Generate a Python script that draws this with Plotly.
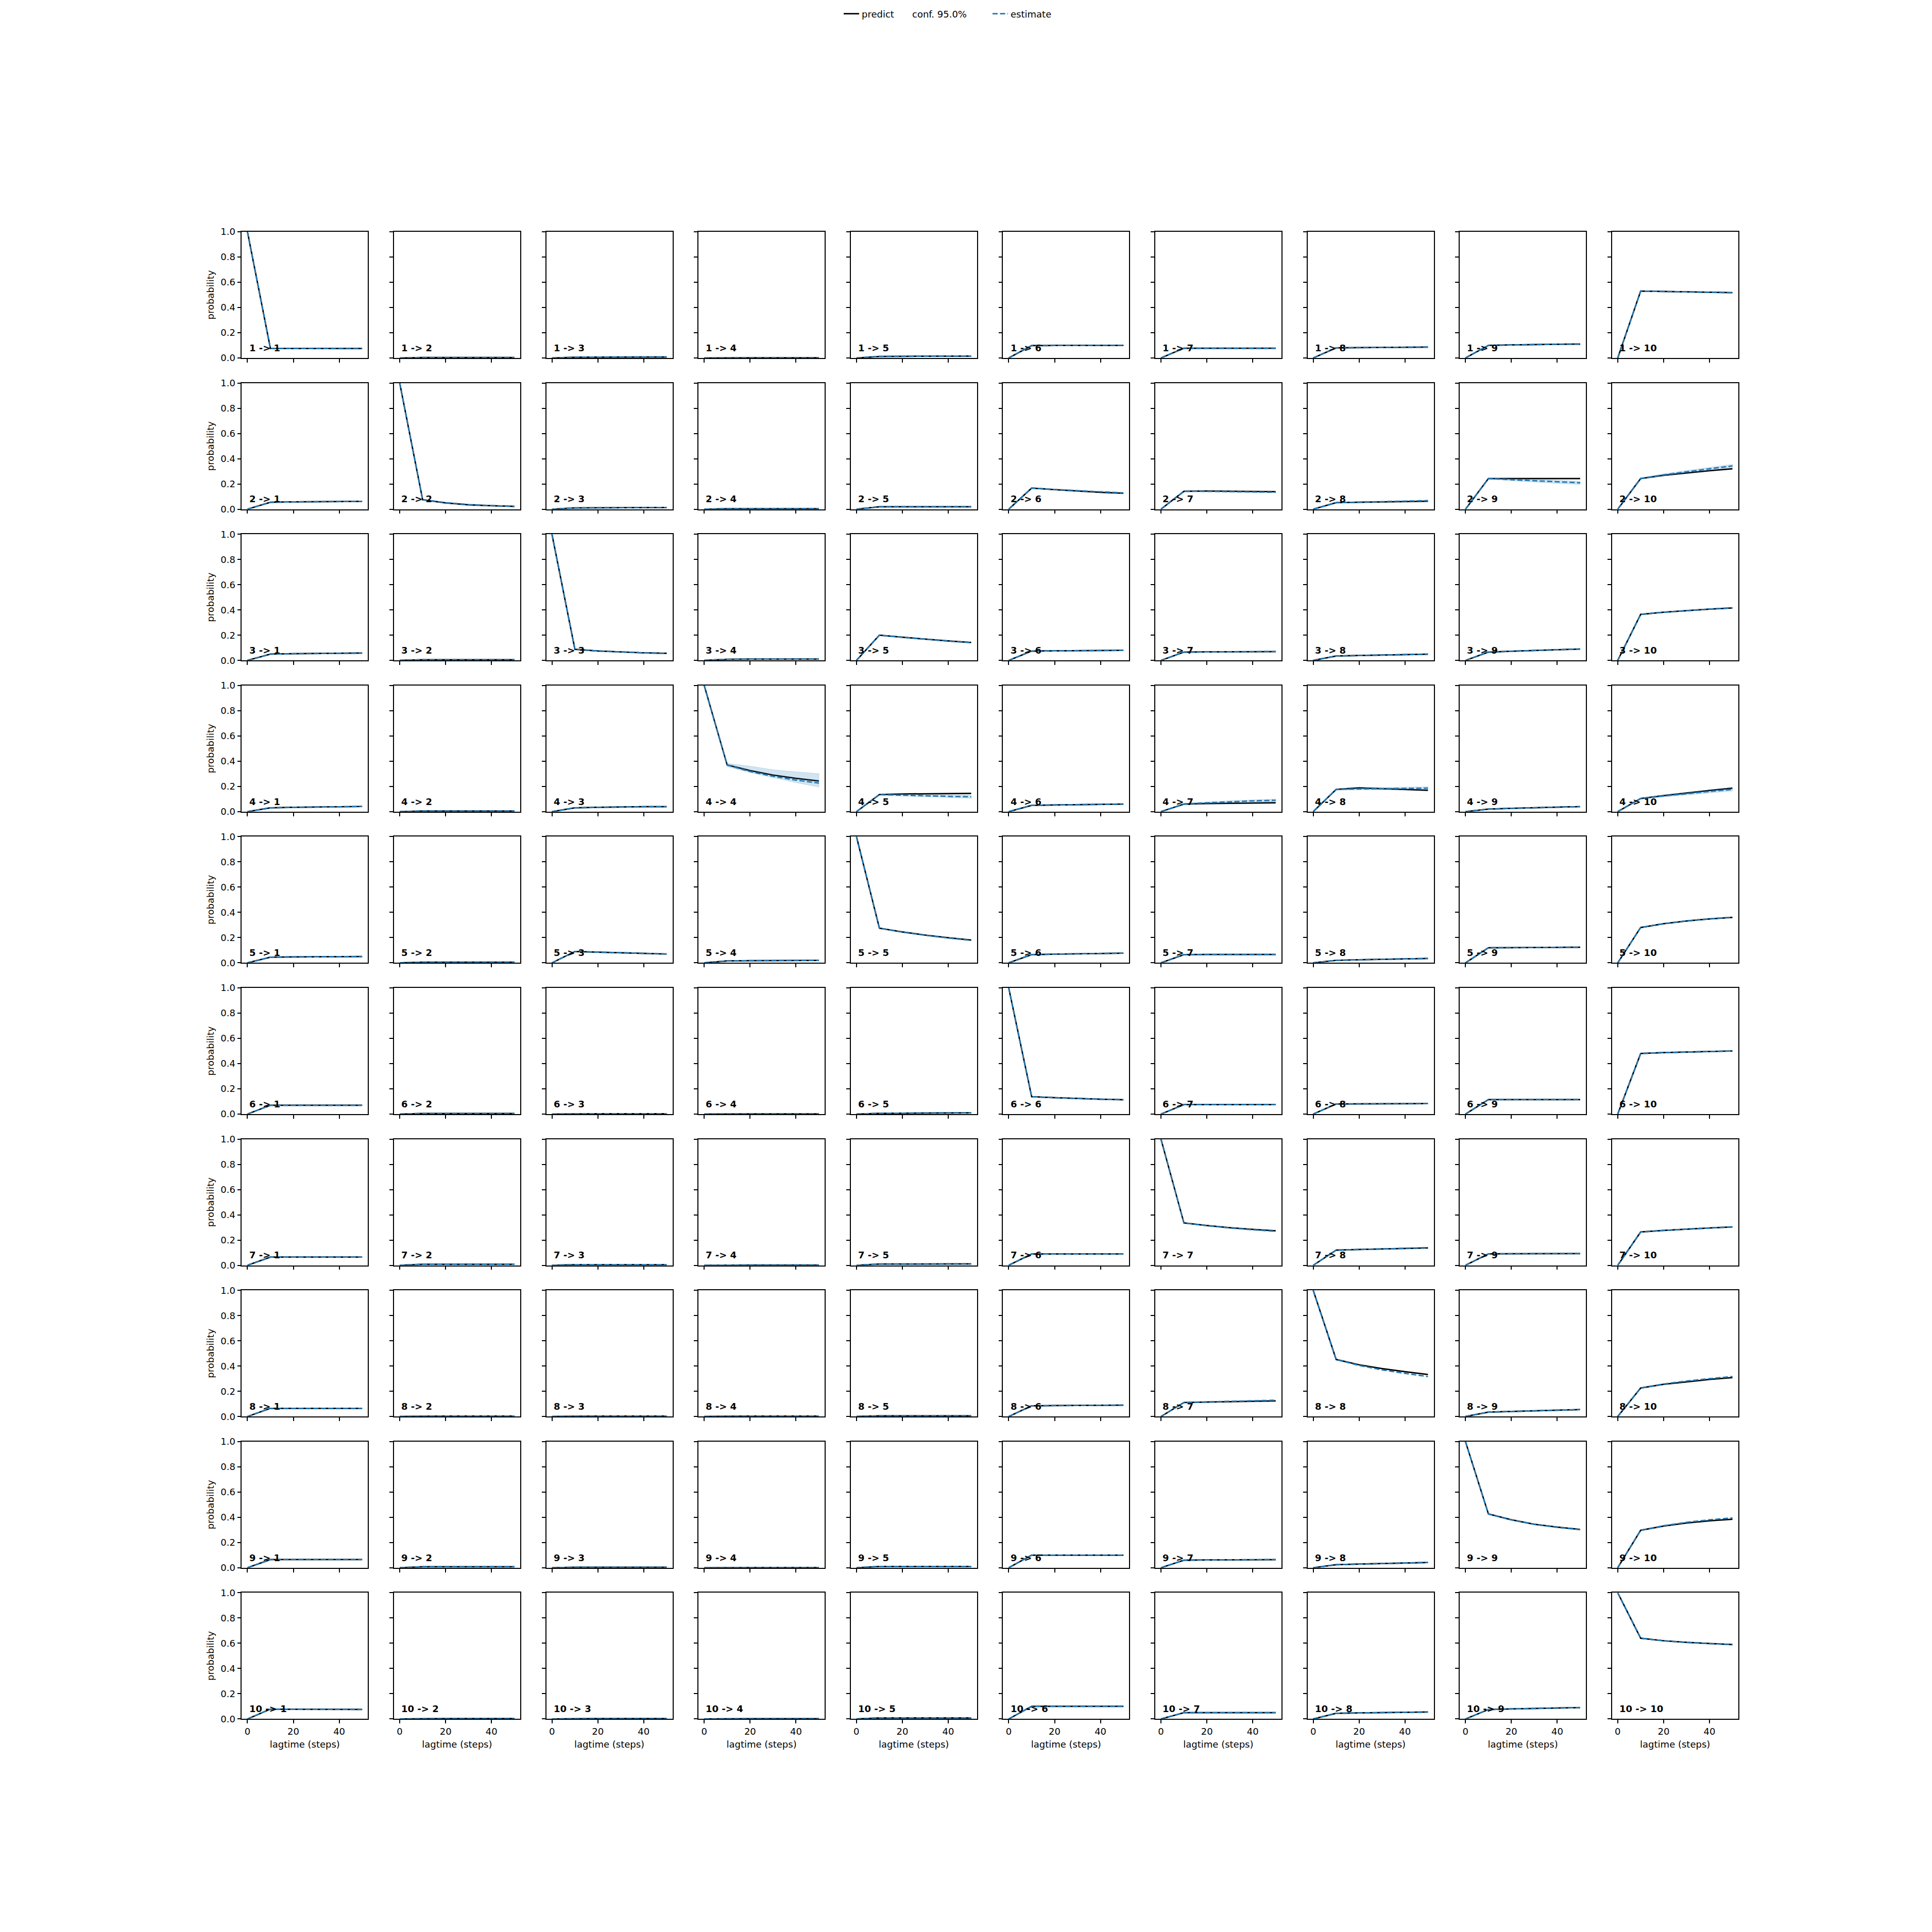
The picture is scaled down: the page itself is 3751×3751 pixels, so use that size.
import plotly.graph_objects as go

# ---------------- data ----------------
LAGTIMES = [0, 10, 20, 30, 40, 50]
STATES = [1, 2, 3, 4, 5, 6, 7, 8, 9, 10]
Y_TICKS = [0.0, 0.2, 0.4, 0.6, 0.8, 1.0]
X_TICKS = [0, 20, 40]

# predictions: PRED_i[j] = P(i -> j+1) at each lagtime
PRED_1 = [
    [1, 0.076, 0.075, 0.075, 0.075, 0.075],
    [0, 0.004, 0.004, 0.004, 0.004, 0.004],
    [0, 0.006, 0.007, 0.007, 0.007, 0.008],
    [0, 0.002, 0.002, 0.002, 0.002, 0.002],
    [0, 0.012, 0.013, 0.014, 0.014, 0.015],
    [0, 0.098, 0.099, 0.100, 0.100, 0.100],
    [0, 0.077, 0.077, 0.077, 0.077, 0.077],
    [0, 0.080, 0.082, 0.084, 0.085, 0.086],
    [0, 0.100, 0.104, 0.107, 0.109, 0.110],
    [0, 0.530, 0.527, 0.524, 0.521, 0.518],
]
PRED_2 = [
    [0, 0.055, 0.058, 0.060, 0.061, 0.062],
    [1, 0.075, 0.050, 0.035, 0.027, 0.022],
    [0, 0.010, 0.011, 0.012, 0.012, 0.013],
    [0, 0.004, 0.004, 0.004, 0.004, 0.004],
    [0, 0.019, 0.019, 0.019, 0.019, 0.019],
    [0, 0.167, 0.155, 0.144, 0.134, 0.126],
    [0, 0.142, 0.144, 0.143, 0.141, 0.139],
    [0, 0.052, 0.055, 0.058, 0.061, 0.063],
    [0, 0.243, 0.243, 0.243, 0.243, 0.243],
    [0, 0.243, 0.268, 0.288, 0.305, 0.320],
]
PRED_3 = [
    [0, 0.050, 0.053, 0.055, 0.057, 0.058],
    [0, 0.005, 0.005, 0.005, 0.005, 0.005],
    [1, 0.088, 0.075, 0.066, 0.060, 0.056],
    [0, 0.009, 0.010, 0.010, 0.011, 0.011],
    [0, 0.200, 0.184, 0.168, 0.154, 0.142],
    [0, 0.074, 0.076, 0.078, 0.079, 0.080],
    [0, 0.066, 0.068, 0.069, 0.070, 0.070],
    [0, 0.035, 0.039, 0.043, 0.046, 0.049],
    [0, 0.066, 0.073, 0.079, 0.085, 0.090],
    [0, 0.365, 0.382, 0.395, 0.406, 0.416],
]
PRED_4 = [
    [0, 0.030, 0.034, 0.037, 0.039, 0.041],
    [0, 0.005, 0.005, 0.005, 0.005, 0.005],
    [0, 0.030, 0.034, 0.037, 0.039, 0.040],
    [1, 0.370, 0.325, 0.290, 0.264, 0.243],
    [0, 0.135, 0.140, 0.142, 0.144, 0.145],
    [0, 0.050, 0.053, 0.056, 0.058, 0.060],
    [0, 0.060, 0.064, 0.066, 0.068, 0.070],
    [0, 0.176, 0.188, 0.181, 0.174, 0.169],
    [0, 0.020, 0.026, 0.031, 0.035, 0.040],
    [0, 0.104, 0.127, 0.148, 0.168, 0.186],
]
PRED_5 = [
    [0, 0.045, 0.047, 0.049, 0.050, 0.050],
    [0, 0.005, 0.005, 0.005, 0.005, 0.005],
    [0, 0.090, 0.085, 0.080, 0.075, 0.070],
    [0, 0.015, 0.017, 0.018, 0.019, 0.020],
    [1, 0.275, 0.245, 0.220, 0.199, 0.181],
    [0, 0.065, 0.069, 0.072, 0.075, 0.077],
    [0, 0.065, 0.066, 0.066, 0.066, 0.066],
    [0, 0.020, 0.025, 0.029, 0.032, 0.035],
    [0, 0.120, 0.121, 0.122, 0.123, 0.124],
    [0, 0.280, 0.310, 0.332, 0.348, 0.360],
]
PRED_6 = [
    [0, 0.070, 0.070, 0.070, 0.070, 0.070],
    [0, 0.005, 0.005, 0.005, 0.005, 0.005],
    [0, 0.003, 0.003, 0.003, 0.003, 0.003],
    [0, 0.002, 0.002, 0.002, 0.002, 0.002],
    [0, 0.006, 0.007, 0.008, 0.009, 0.010],
    [1, 0.138, 0.130, 0.123, 0.118, 0.114],
    [0, 0.075, 0.075, 0.075, 0.075, 0.075],
    [0, 0.080, 0.081, 0.082, 0.082, 0.083],
    [0, 0.115, 0.115, 0.115, 0.115, 0.115],
    [0, 0.480, 0.487, 0.492, 0.496, 0.500],
]
PRED_7 = [
    [0, 0.065, 0.065, 0.065, 0.065, 0.065],
    [0, 0.008, 0.008, 0.008, 0.008, 0.008],
    [0, 0.005, 0.005, 0.005, 0.005, 0.005],
    [0, 0.002, 0.002, 0.002, 0.002, 0.002],
    [0, 0.010, 0.010, 0.011, 0.011, 0.011],
    [0, 0.090, 0.090, 0.090, 0.090, 0.090],
    [1, 0.336, 0.315, 0.298, 0.285, 0.273],
    [0, 0.120, 0.125, 0.130, 0.134, 0.138],
    [0, 0.091, 0.092, 0.092, 0.093, 0.093],
    [0, 0.264, 0.276, 0.287, 0.296, 0.304],
]
PRED_8 = [
    [0, 0.065, 0.065, 0.065, 0.065, 0.065],
    [0, 0.003, 0.003, 0.003, 0.003, 0.003],
    [0, 0.003, 0.003, 0.003, 0.003, 0.003],
    [0, 0.003, 0.003, 0.003, 0.003, 0.003],
    [0, 0.005, 0.005, 0.005, 0.005, 0.005],
    [0, 0.085, 0.087, 0.088, 0.089, 0.090],
    [0, 0.111, 0.115, 0.119, 0.122, 0.124],
    [1, 0.452, 0.410, 0.380, 0.355, 0.333],
    [0, 0.035, 0.040, 0.045, 0.050, 0.055],
    [0, 0.226, 0.255, 0.276, 0.294, 0.308],
]
PRED_9 = [
    [0, 0.065, 0.065, 0.065, 0.065, 0.065],
    [0, 0.008, 0.008, 0.008, 0.008, 0.008],
    [0, 0.004, 0.004, 0.004, 0.004, 0.004],
    [0, 0.002, 0.002, 0.002, 0.002, 0.002],
    [0, 0.010, 0.010, 0.010, 0.010, 0.010],
    [0, 0.100, 0.100, 0.100, 0.100, 0.100],
    [0, 0.060, 0.062, 0.063, 0.064, 0.064],
    [0, 0.024, 0.029, 0.034, 0.038, 0.042],
    [1, 0.426, 0.380, 0.345, 0.322, 0.304],
    [0, 0.297, 0.330, 0.355, 0.372, 0.384],
]
PRED_10 = [
    [0, 0.078, 0.077, 0.077, 0.076, 0.076],
    [0, 0.003, 0.003, 0.003, 0.003, 0.003],
    [0, 0.003, 0.003, 0.003, 0.003, 0.003],
    [0, 0.002, 0.002, 0.002, 0.002, 0.002],
    [0, 0.008, 0.008, 0.008, 0.008, 0.008],
    [0, 0.100, 0.100, 0.100, 0.100, 0.100],
    [0, 0.050, 0.050, 0.050, 0.050, 0.050],
    [0, 0.045, 0.048, 0.051, 0.053, 0.055],
    [0, 0.075, 0.080, 0.084, 0.087, 0.090],
    [1, 0.640, 0.620, 0.607, 0.598, 0.590],
]

# estimates: EST_i[j] = estimated P(i -> j+1) at each lagtime
EST_1 = [
    [1, 0.076, 0.075, 0.075, 0.074, 0.074],
    [0, 0.004, 0.004, 0.004, 0.004, 0.004],
    [0, 0.006, 0.007, 0.007, 0.008, 0.008],
    [0, 0.002, 0.002, 0.002, 0.002, 0.002],
    [0, 0.012, 0.013, 0.014, 0.015, 0.015],
    [0, 0.098, 0.099, 0.100, 0.101, 0.101],
    [0, 0.077, 0.077, 0.077, 0.077, 0.077],
    [0, 0.080, 0.082, 0.084, 0.085, 0.086],
    [0, 0.100, 0.104, 0.106, 0.109, 0.111],
    [0, 0.530, 0.527, 0.523, 0.520, 0.517],
]
EST_2 = [
    [0, 0.055, 0.058, 0.060, 0.061, 0.062],
    [1, 0.075, 0.052, 0.037, 0.028, 0.022],
    [0, 0.010, 0.011, 0.012, 0.012, 0.013],
    [0, 0.004, 0.004, 0.004, 0.004, 0.004],
    [0, 0.019, 0.019, 0.019, 0.019, 0.019],
    [0, 0.167, 0.156, 0.146, 0.137, 0.129],
    [0, 0.142, 0.141, 0.139, 0.136, 0.134],
    [0, 0.052, 0.056, 0.060, 0.064, 0.068],
    [0, 0.243, 0.234, 0.225, 0.217, 0.209],
    [0, 0.243, 0.272, 0.297, 0.320, 0.343],
]
EST_3 = [
    [0, 0.050, 0.053, 0.055, 0.057, 0.058],
    [0, 0.005, 0.005, 0.005, 0.005, 0.005],
    [1, 0.088, 0.075, 0.066, 0.060, 0.055],
    [0, 0.009, 0.010, 0.010, 0.011, 0.011],
    [0, 0.200, 0.183, 0.167, 0.153, 0.141],
    [0, 0.074, 0.076, 0.078, 0.079, 0.080],
    [0, 0.066, 0.068, 0.069, 0.070, 0.071],
    [0, 0.035, 0.039, 0.043, 0.046, 0.050],
    [0, 0.066, 0.073, 0.079, 0.085, 0.091],
    [0, 0.365, 0.382, 0.396, 0.407, 0.417],
]
EST_4 = [
    [0, 0.030, 0.034, 0.037, 0.039, 0.041],
    [0, 0.005, 0.005, 0.005, 0.005, 0.005],
    [0, 0.030, 0.034, 0.037, 0.039, 0.040],
    [1, 0.370, 0.318, 0.280, 0.250, 0.226],
    [0, 0.135, 0.130, 0.126, 0.121, 0.117],
    [0, 0.050, 0.053, 0.056, 0.058, 0.060],
    [0, 0.060, 0.070, 0.078, 0.085, 0.090],
    [0, 0.176, 0.180, 0.182, 0.184, 0.186],
    [0, 0.020, 0.026, 0.031, 0.035, 0.040],
    [0, 0.104, 0.124, 0.143, 0.160, 0.176],
]
EST_5 = [
    [0, 0.045, 0.047, 0.049, 0.050, 0.050],
    [0, 0.005, 0.005, 0.005, 0.005, 0.005],
    [0, 0.090, 0.085, 0.080, 0.075, 0.070],
    [0, 0.015, 0.017, 0.018, 0.019, 0.020],
    [1, 0.275, 0.244, 0.218, 0.197, 0.178],
    [0, 0.065, 0.069, 0.072, 0.075, 0.077],
    [0, 0.065, 0.066, 0.066, 0.066, 0.066],
    [0, 0.020, 0.025, 0.029, 0.032, 0.035],
    [0, 0.120, 0.121, 0.122, 0.123, 0.124],
    [0, 0.280, 0.310, 0.333, 0.349, 0.362],
]
EST_6 = [
    [0, 0.070, 0.070, 0.070, 0.070, 0.070],
    [0, 0.005, 0.005, 0.005, 0.005, 0.005],
    [0, 0.003, 0.003, 0.003, 0.003, 0.003],
    [0, 0.002, 0.002, 0.002, 0.002, 0.002],
    [0, 0.006, 0.007, 0.008, 0.009, 0.010],
    [1, 0.138, 0.130, 0.123, 0.118, 0.114],
    [0, 0.075, 0.075, 0.075, 0.075, 0.075],
    [0, 0.080, 0.081, 0.082, 0.082, 0.083],
    [0, 0.115, 0.115, 0.115, 0.115, 0.115],
    [0, 0.480, 0.487, 0.492, 0.496, 0.500],
]
EST_7 = [
    [0, 0.065, 0.065, 0.065, 0.065, 0.065],
    [0, 0.008, 0.008, 0.008, 0.008, 0.008],
    [0, 0.005, 0.005, 0.005, 0.005, 0.005],
    [0, 0.002, 0.002, 0.002, 0.002, 0.002],
    [0, 0.010, 0.010, 0.011, 0.011, 0.011],
    [0, 0.090, 0.090, 0.090, 0.090, 0.090],
    [1, 0.336, 0.314, 0.296, 0.282, 0.269],
    [0, 0.120, 0.125, 0.130, 0.135, 0.140],
    [0, 0.091, 0.092, 0.092, 0.093, 0.093],
    [0, 0.264, 0.276, 0.287, 0.296, 0.305],
]
EST_8 = [
    [0, 0.065, 0.065, 0.065, 0.065, 0.065],
    [0, 0.003, 0.003, 0.003, 0.003, 0.003],
    [0, 0.003, 0.003, 0.003, 0.003, 0.003],
    [0, 0.003, 0.003, 0.003, 0.003, 0.003],
    [0, 0.005, 0.005, 0.005, 0.005, 0.005],
    [0, 0.085, 0.087, 0.088, 0.089, 0.090],
    [0, 0.111, 0.116, 0.121, 0.125, 0.129],
    [1, 0.452, 0.405, 0.370, 0.342, 0.317],
    [0, 0.035, 0.040, 0.045, 0.050, 0.055],
    [0, 0.226, 0.258, 0.281, 0.300, 0.317],
]
EST_9 = [
    [0, 0.065, 0.065, 0.065, 0.065, 0.065],
    [0, 0.008, 0.008, 0.008, 0.008, 0.008],
    [0, 0.004, 0.004, 0.004, 0.004, 0.004],
    [0, 0.002, 0.002, 0.002, 0.002, 0.002],
    [0, 0.010, 0.010, 0.010, 0.010, 0.010],
    [0, 0.100, 0.100, 0.100, 0.100, 0.100],
    [0, 0.060, 0.062, 0.063, 0.064, 0.065],
    [0, 0.024, 0.029, 0.034, 0.038, 0.042],
    [1, 0.426, 0.379, 0.344, 0.320, 0.302],
    [0, 0.297, 0.333, 0.360, 0.380, 0.395],
]
EST_10 = [
    [0, 0.078, 0.077, 0.077, 0.076, 0.076],
    [0, 0.003, 0.003, 0.003, 0.003, 0.003],
    [0, 0.003, 0.003, 0.003, 0.003, 0.003],
    [0, 0.002, 0.002, 0.002, 0.002, 0.002],
    [0, 0.008, 0.008, 0.008, 0.008, 0.008],
    [0, 0.100, 0.100, 0.100, 0.100, 0.100],
    [0, 0.050, 0.050, 0.050, 0.050, 0.050],
    [0, 0.045, 0.048, 0.051, 0.053, 0.055],
    [0, 0.075, 0.080, 0.084, 0.087, 0.091],
    [1, 0.640, 0.619, 0.606, 0.597, 0.589],
]

# 95% confidence bands (only where visibly wider than the lines)
BAND_4_4_LO = [1, 0.356, 0.310, 0.270, 0.230, 0.195]
BAND_4_4_HI = [1, 0.383, 0.360, 0.332, 0.315, 0.301]
BAND_4_5_LO = [0, 0.130, 0.124, 0.118, 0.112, 0.106]
BAND_4_5_HI = [0, 0.140, 0.136, 0.134, 0.132, 0.131]
BAND_4_7_LO = [0, 0.055, 0.062, 0.068, 0.074, 0.078]
BAND_4_7_HI = [0, 0.065, 0.076, 0.086, 0.094, 0.100]
BAND_4_8_LO = [0, 0.170, 0.172, 0.173, 0.174, 0.175]
BAND_4_8_HI = [0, 0.182, 0.188, 0.192, 0.195, 0.197]
BAND_4_10_LO = [0, 0.100, 0.117, 0.133, 0.148, 0.163]
BAND_4_10_HI = [0, 0.108, 0.131, 0.153, 0.172, 0.190]
BAND_2_9_LO = [0, 0.238, 0.226, 0.214, 0.204, 0.196]
BAND_2_9_HI = [0, 0.248, 0.242, 0.236, 0.230, 0.222]
BAND_2_10_LO = [0, 0.238, 0.264, 0.287, 0.308, 0.330]
BAND_2_10_HI = [0, 0.248, 0.280, 0.307, 0.332, 0.356]

PRED = [PRED_1, PRED_2, PRED_3, PRED_4, PRED_5, PRED_6, PRED_7, PRED_8, PRED_9, PRED_10]
EST = [EST_1, EST_2, EST_3, EST_4, EST_5, EST_6, EST_7, EST_8, EST_9, EST_10]
BANDS = {
    (4, 4): (BAND_4_4_LO, BAND_4_4_HI),
    (4, 5): (BAND_4_5_LO, BAND_4_5_HI),
    (4, 7): (BAND_4_7_LO, BAND_4_7_HI),
    (4, 8): (BAND_4_8_LO, BAND_4_8_HI),
    (4, 10): (BAND_4_10_LO, BAND_4_10_HI),
    (2, 9): (BAND_2_9_LO, BAND_2_9_HI),
    (2, 10): (BAND_2_10_LO, BAND_2_10_HI),
}

# ---------------- layout ----------------
W = H = 3751
OFF = 8  # default page body margin shifts the plot by this many px
FONT = "DejaVu Sans"
FS = 18
C0 = "#1f77b4"
AX_LEFT, AX_TOP = 469.3 - OFF, 450.0 - OFF
COL_PITCH, ROW_PITCH = 295.6, 293.6
AX_SIZE = 245.0

fig = go.Figure()
layout = dict(
    width=W, height=H,
    margin=dict(l=0, r=0, t=0, b=0),
    paper_bgcolor="white", plot_bgcolor="white",
    font=dict(family=FONT, size=FS, color="black"),
    annotations=[],
)

n_states = len(STATES)
for i in range(n_states):
    for j in range(n_states):
        n = i * n_states + j + 1
        xa = "x" if n == 1 else f"x{n}"
        ya = "y" if n == 1 else f"y{n}"
        first = (n == 1)

        fig.add_trace(go.Scatter(
            x=LAGTIMES, y=PRED[i][j], mode="lines",
            line=dict(color="black", width=2.75),
            xaxis=xa, yaxis=ya, name="predict", legend="legend",
            showlegend=first, hoverinfo="skip"))

        key = (STATES[i], STATES[j])
        if key in BANDS:
            lo, hi = BANDS[key]
            fig.add_trace(go.Scatter(
                x=LAGTIMES + LAGTIMES[::-1], y=lo + hi[::-1],
                mode="lines", fill="toself",
                fillcolor="rgba(31,119,180,0.2)",
                line=dict(color="rgba(31,119,180,0.2)", width=1),
                xaxis=xa, yaxis=ya, showlegend=False, hoverinfo="skip"))

        fig.add_trace(go.Scatter(
            x=LAGTIMES, y=EST[i][j], mode="lines",
            line=dict(color=C0, width=2.75, dash="10px,4.5px"),
            xaxis=xa, yaxis=ya, name="estimate", legend="legend3",
            showlegend=first, hoverinfo="skip"))

        left = AX_LEFT + COL_PITCH * j
        top = AX_TOP + ROW_PITCH * i
        xdom = [left / W, (left + AX_SIZE) / W]
        ydom = [1 - (top + AX_SIZE) / H, 1 - top / H]

        axis_common = dict(
            showline=True, linecolor="black", linewidth=1.6, mirror=True,
            ticks="outside", ticklen=7, tickwidth=1.5, tickcolor="black",
            showgrid=False, zeroline=False, automargin=False,
            tickfont=dict(family=FONT, size=FS, color="black"),
        )
        xkey = "xaxis" if n == 1 else f"xaxis{n}"
        ykey = "yaxis" if n == 1 else f"yaxis{n}"
        xaxis = dict(axis_common, domain=xdom, anchor=ya, range=[-2.5, 52.5],
                     tickmode="array", tickvals=X_TICKS,
                     showticklabels=(i == n_states - 1))
        if i == n_states - 1:
            xaxis["title"] = dict(text="lagtime (steps)", standoff=10,
                                  font=dict(family=FONT, size=FS, color="black"))
        yaxis = dict(axis_common, domain=ydom, anchor=xa, range=[0, 1],
                     tickmode="array", tickvals=Y_TICKS, tickformat=".1f",
                     showticklabels=(j == 0))
        if j == 0:
            yaxis["title"] = dict(text="probability", standoff=8,
                                  font=dict(family=FONT, size=FS, color="black"))
        layout[xkey] = xaxis
        layout[ykey] = yaxis

        layout["annotations"].append(dict(
            text=f"{STATES[i]} -> {STATES[j]}",
            xref=f"{xa} domain", yref=f"{ya} domain",
            x=0.05, y=0.05, xanchor="left", yanchor="bottom", yshift=-5,
            showarrow=False,
            font=dict(family=FONT, size=FS, color="black", weight="bold")))

# legend-only entry for the confidence band label
fig.add_trace(go.Scatter(
    x=[None], y=[None], mode="lines",
    line=dict(color="rgba(0,0,0,0)", width=0),
    name="conf. 95.0%", legend="legend2", showlegend=True, hoverinfo="skip"))

leg_common = dict(orientation="h", yanchor="middle", xanchor="left",
                  y=1 - (27 - OFF) / H, bgcolor="rgba(0,0,0,0)", borderwidth=0,
                  font=dict(family=FONT, size=FS, color="black"))
layout["legend"] = dict(leg_common, x=(1633 - OFF) / W)
layout["legend2"] = dict(leg_common, x=(1731 - OFF) / W)
layout["legend3"] = dict(leg_common, x=(1922 - OFF) / W)

fig.update_layout(**layout)
fig.write_html("out.html")
